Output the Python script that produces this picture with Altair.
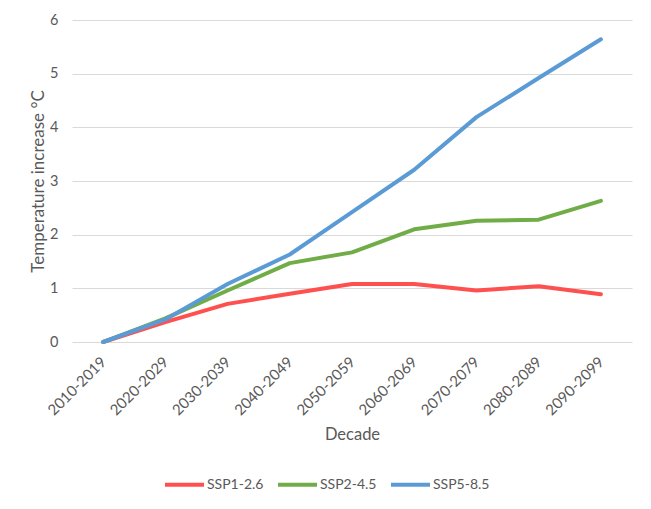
import altair as alt
import pandas as pd

decades = ["2010-2019", "2020-2029", "2030-2039", "2040-2049", "2050-2059",
           "2060-2069", "2070-2079", "2080-2089", "2090-2099"]
ssp126 = [0.0, 0.37, 0.71, 0.90, 1.08, 1.08, 0.96, 1.04, 0.89]
ssp245 = [0.0, 0.44, 0.96, 1.47, 1.67, 2.10, 2.26, 2.28, 2.63]
ssp585 = [0.0, 0.42, 1.08, 1.63, 2.42, 3.21, 4.19, 4.92, 5.64]
series_names = ["SSP1-2.6", "SSP2-4.5", "SSP5-8.5"]
series_colors = ["#FF5050", "#70AD47", "#5B9BD5"]
y_ticks = [0, 1, 2, 3, 4, 5, 6]

rows = []
for name, vals in zip(series_names, [ssp126, ssp245, ssp585]):
    for d, v in zip(decades, vals):
        rows.append({"Decade": d, "Value": v, "Series": name})
df = pd.DataFrame(rows)

W, H = 560, 322
TXT = "#595959"

chart = alt.Chart(df).mark_line(
    strokeWidth=4, strokeCap="round", strokeJoin="round"
).encode(
    x=alt.X(
        "Decade:O", sort=decades,
        scale=alt.Scale(type="point", padding=0.5),
        axis=alt.Axis(
            title="Decade", labelAngle=315, labelAlign="right", labelBaseline="middle",
            labelPadding=17, ticks=False, tickSize=0, domain=False, grid=False,
            labelFontSize=15, labelColor=TXT,
            titleFontSize=16.5, titleColor=TXT, titleFontWeight="normal",
            titleX=W / 2, titleY=97, titleAlign="center", titleBaseline="alphabetic",
        ),
    ),
    y=alt.Y(
        "Value:Q",
        scale=alt.Scale(domain=[0, 6], nice=False, zero=True),
        axis=alt.Axis(
            title="Temperature increase °C", values=y_ticks, format="d",
            ticks=False, tickSize=0, domain=False, grid=True,
            gridColor="#D9D9D9", gridWidth=1.2,
            labelPadding=14, labelFontSize=14.5, labelColor=TXT,
            titleFontSize=17, titleColor=TXT, titleFontWeight="normal",
            titleAngle=270, titleX=-29, titleY=H / 2, titleAlign="center",
            titleBaseline="alphabetic",
        ),
    ),
    color=alt.Color(
        "Series:N",
        scale=alt.Scale(domain=series_names, range=series_colors),
        legend=alt.Legend(
            title=None, orient="none", direction="horizontal",
            legendX=91, legendY=443, symbolType="stroke", symbolSize=1521,
            symbolStrokeWidth=4, labelOffset=1, columnPadding=6,
            labelFontSize=14, labelColor=TXT, padding=0,
        ),
    ),
).properties(
    width=W, height=H,
    autosize=alt.AutoSizeParams(type="none"),
    padding={"left": 64, "top": 12, "right": 5, "bottom": 160},
).configure(
    font="Lato", background="white"
).configure_view(stroke=None)

chart.save("out.html", embed_options={"renderer": "svg", "actions": False})
